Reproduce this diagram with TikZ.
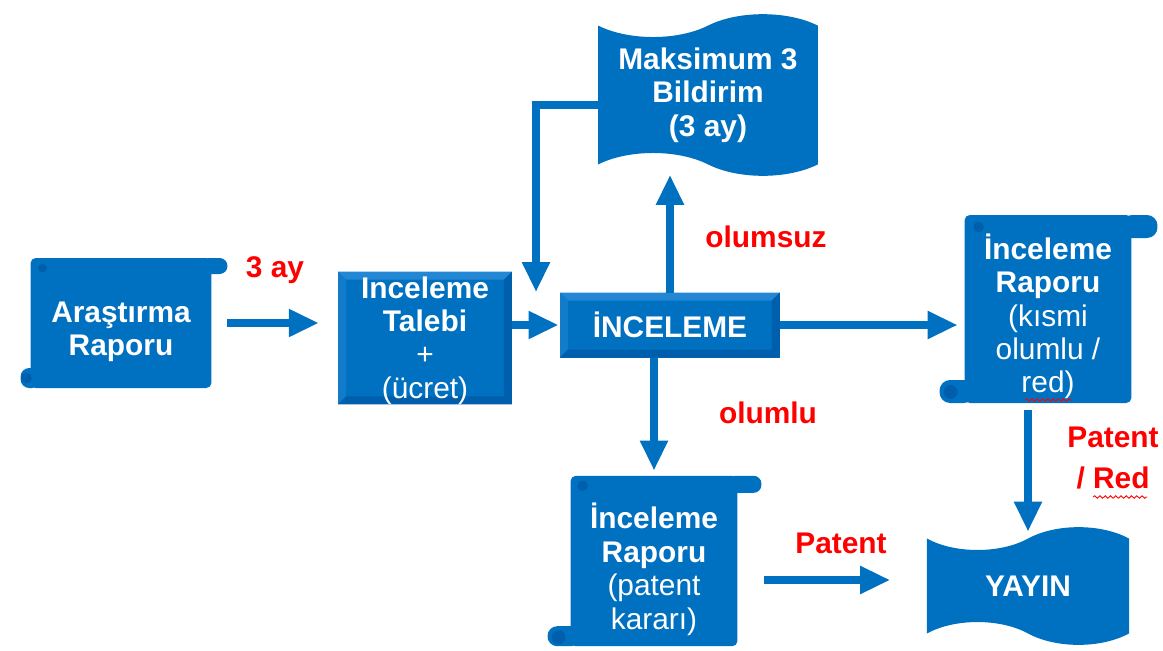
\documentclass[tikz,border=0pt]{standalone}
\usepackage{fontspec}
\setmainfont{Liberation Sans}
\usetikzlibrary{shapes.symbols,arrows.meta,calc,decorations.pathmorphing}
\definecolor{boxblue}{RGB}{0,112,192}
\definecolor{boxlight}{RGB}{35,135,212}
\definecolor{boxdark}{RGB}{0,95,172}

\begin{document}
\begin{tikzpicture}[x=0.02cm, y=-0.02cm,
  every node/.style={inner sep=0pt, outer sep=0pt, align=center, font=\fontsize{17}{19}\selectfont\bfseries},
  box/.style={fill=boxblue, text=white},
  scroll/.style={box, rounded corners=3pt},
  bevel/.style={box, path picture={
    \coordinate (nw) at (path picture bounding box.north west);
    \coordinate (ne) at (path picture bounding box.north east);
    \coordinate (sw) at (path picture bounding box.south west);
    \coordinate (se) at (path picture bounding box.south east);
    \fill[boxlight] (nw) -- (ne) -- ($(ne)+(-8,8)$) -- ($(nw)+(8,8)$) -- cycle;
    \fill[boxlight!50!boxblue] (nw) -- (sw) -- ($(sw)+(8,-8)$) -- ($(nw)+(8,8)$) -- cycle;
    \fill[boxdark] (ne) -- (se) -- ($(se)+(-8,-8)$) -- ($(ne)+(-8,8)$) -- cycle;
    \fill[boxdark] (sw) -- (se) -- ($(se)+(-8,-8)$) -- ($(sw)+(8,-8)$) -- cycle;}},
  flag/.style={box, tape, tape bend top=in and out, tape bend bottom=out and in, tape bend height=13pt},
  label/.style={text=red},
  arrow/.style={draw=boxblue, line width=4pt, -{Triangle[length=17pt,width=15pt]}}]

\useasboundingbox (0,0) rectangle (1163,650);

% scrolls
\node[scroll, minimum width=103pt, minimum height=74pt] (ar) at (121,323) {\rule{0pt}{21.5pt}Araştırma\\Raporu};
\fill[boxblue, rounded corners=4.5pt] ($(ar.north east)+(-10,0)$) rectangle ($(ar.north east)+(16,16)$);
\fill[boxblue, rounded corners=5pt] ($(ar.south west)+(-10,-20)$) rectangle ($(ar.south west)+(10,0)$);
\fill[boxdark] ($(ar.north west)+(12,10)$) circle (2.5pt);
\fill[boxdark] ($(ar.south west)+(-4,-10)$) circle (3pt);

\node[scroll, minimum width=95pt, minimum height=107pt] (rap1) at (1048,309) {\rule{0pt}{23pt}İnceleme\\Raporu\\{\mdseries (kısmi}\\{\mdseries olumlu /}\\{\mdseries red)}};
\fill[boxblue, rounded corners=6pt] ($(rap1.north east)+(-10,0)$) rectangle ($(rap1.north east)+(26,23)$);
\fill[boxblue, rounded corners=6pt] ($(rap1.south west)+(-25,-23)$) rectangle ($(rap1.south west)+(10,0)$);
\fill[boxdark] ($(rap1.north west)+(14,12)$) circle (3pt);
\fill[boxdark] ($(rap1.south west)+(-14,-11)$) circle (4pt);

\node[scroll, minimum width=95pt, minimum height=97pt] (rap2) at (654,561) {\rule{0pt}{24pt}İnceleme\\Raporu\\{\mdseries (patent}\\{\mdseries kararı)}};
\fill[boxblue, rounded corners=4.5pt] ($(rap2.north east)+(-10,0)$) rectangle ($(rap2.north east)+(24,17)$);
\fill[boxblue, rounded corners=5.5pt] ($(rap2.south west)+(-23,-20)$) rectangle ($(rap2.south west)+(10,0)$);
\fill[boxdark] ($(rap2.north west)+(12,10)$) circle (3pt);
\fill[boxdark] ($(rap2.south west)+(-12,-9)$) circle (4pt);

% bevel boxes
\node[bevel, minimum width=99pt, minimum height=70pt] (tal) at (425,338) {\rule{0pt}{15pt}Inceleme\\Talebi\\{\mdseries +}\\{\mdseries (ücret)}};
\node[bevel, minimum width=125pt, minimum height=37pt] (inc) at (670,325) {İNCELEME};

% flags
\node[flag, minimum width=125pt, minimum height=92pt] (mak) at (708,95) {Maksimum 3\\Bildirim\\(3 ay)};
\node[flag, minimum width=115pt, minimum height=67pt] (yay) at (1028,586) {YAYIN};

% arrows
\coordinate (drop) at (536,292);
\coordinate (pat) at ($(rap2.east)+(27,19)$);
\draw[arrow, shorten <=9pt, shorten >=11pt] (ar.east) -- (ar.east -| tal.west);
\draw[arrow, shorten >=1pt] (inc.west -| tal.east) -- (inc.west);
\draw[arrow, shorten >=4pt] (inc.east) -- (inc.east -| rap1.west);
\draw[arrow, shorten >=6pt] (inc.north) -- (inc.north |- mak.south);
\draw[arrow] ($(mak.west)+(0,10)$) -| (drop);
\draw[arrow, shorten >=3pt] (rap2.north |- inc.south) -- (rap2.north);
\draw[arrow, shorten <=4pt, shorten >=4pt] (yay.north |- rap1.south) -- (yay.north);
\draw[arrow, shorten >=21pt] (pat) -- (pat -| yay.west);

% labels
\node[label] (ay) at (275,270) {3 ay};
\node[label] (neg) at (766,237) {olumsuz};
\node[label] (pos) at (768,413) {olumlu};
\node[label] (pat1) at (841,543) {Patent};
\node[label, font=\fontsize{17}{23}\selectfont\bfseries] (pat2) at (1113,458) {Patent\\/ Red};

% spelling marks
\draw[red, line width=0.5pt, decorate, decoration={snake, amplitude=0.7pt, segment length=3pt}] (1025,400) -- (1072,400);
\draw[red, line width=0.5pt, decorate, decoration={snake, amplitude=0.7pt, segment length=3pt}] (1093,497) -- (1147,497);
\end{tikzpicture}
\end{document}
